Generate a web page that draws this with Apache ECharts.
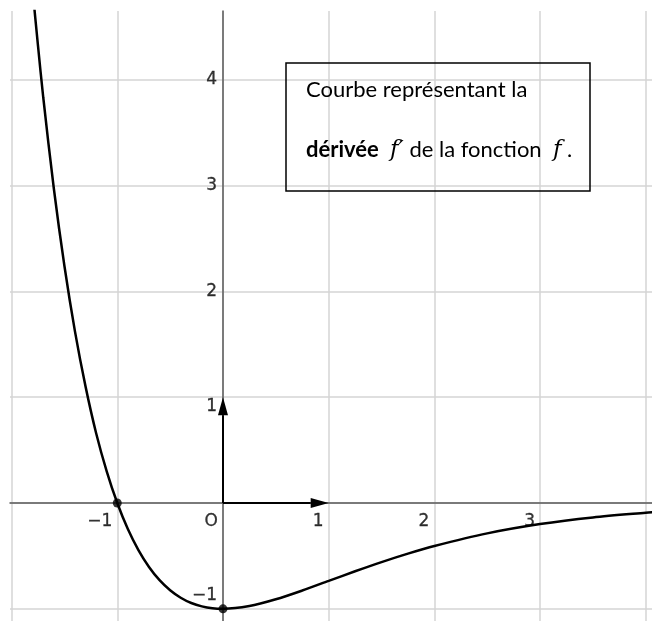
<!DOCTYPE html>
<html>
<head>
<meta charset="utf-8">
<script src="https://cdn.jsdelivr.net/npm/echarts@6/dist/echarts.min.js"></script>
<style>
  html, body { margin: 0; padding: 0; background: #fff; }
  #chart { width: 652px; height: 621px; }
</style>
</head>
<body>
<div id="chart"></div>
<script>
(function() {
  'use strict';

  // courbe de f'
  var curveX = [-1.85, -1.8, -1.75, -1.7, -1.6, -1.5, -1.4, -1.3, -1.2, -1.1, -1, -0.9, -0.8, -0.7, -0.6, -0.5, -0.4, -0.3, -0.2, -0.1, 0, 0.25, 0.5, 0.75, 1, 1.25, 1.5, 1.75, 2, 2.5, 3, 3.5, 4, 4.1];
  var curveY = [5.41, 4.84, 4.32, 3.83, 2.97, 2.24, 1.62, 1.10, 0.66, 0.30, 0, -0.246, -0.445, -0.604, -0.729, -0.824, -0.895, -0.945, -0.977, -0.995, -1, -0.974, -0.910, -0.827, -0.736, -0.645, -0.558, -0.478, -0.406, -0.287, -0.199, -0.136, -0.092, -0.085];

  // points marqués
  var pointsX = [-1, 0];
  var pointsY = [0, -1];

  // vecteurs unitaires (i, j)
  var vecEnds = [[1, 0], [0, 1]];

  // étiquettes des axes
  var xTicks = [-1, 0, 1, 2, 3];
  var xTickText = ['\u22121', 'O', '1', '2', '3'];
  var yTicks = [4, 3, 2, 1, -1];
  var yTickText = ['4', '3', '2', '1', '\u22121'];

  var xRange = [-2.015, 4.059];
  var yRange = [-1.115, 4.65];

  function pairs(xs, ys) {
    return xs.map(function(x, i) { return [x, ys[i]]; });
  }

  // décalage vertical particulier de certaines étiquettes de l'axe des ordonnées
  function yLabelShift(v) {
    if (v === 1) return 9;
    if (v === -1) return -13;
    return 0;
  }

  var gridLine = { show: true, showMinLine: false, showMaxLine: false, lineStyle: { color: '#d4d4d4', width: 1.5 } };
  var axisLine = { show: true, onZero: true, lineStyle: { color: '#5a5a5a', width: 1.5 } };

  function tickLabel(extra) {
    return Object.assign({
      show: true,
      color: '#000',
      fontFamily: 'DejaVu Sans',
      fontSize: 17,
      textBorderColor: '#000',
      textBorderWidth: 0.3,
      formatter: '{b}'
    }, extra);
  }

  function renderArrow(params, api) {
    var o = api.coord([0, 0]);
    var p = api.coord([api.value(0), api.value(1)]);
    var dx = p[0] - o[0], dy = p[1] - o[1];
    var len = Math.sqrt(dx * dx + dy * dy);
    var ux = dx / len, uy = dy / len;
    var headL = 18, headW = 5;
    var bx = p[0] - ux * headL, by = p[1] - uy * headL;
    return {
      type: 'group',
      children: [
        {
          type: 'line',
          shape: { x1: o[0], y1: o[1], x2: bx, y2: by },
          style: { stroke: '#000', lineWidth: 2 }
        },
        {
          type: 'polygon',
          shape: { points: [[p[0], p[1]], [bx - uy * headW, by + ux * headW], [bx + uy * headW, by - ux * headW]] },
          style: { fill: '#000' }
        }
      ]
    };
  }

  var chart = echarts.init(document.getElementById('chart'), null, { renderer: 'canvas' });

  chart.setOption({
    animation: false,
    backgroundColor: '#fff',
    grid: { left: 10, right: 0, top: 11, bottom: 0, containLabel: false, outerBoundsMode: 'none' },
    xAxis: {
      type: 'value',
      min: xRange[0],
      max: xRange[1],
      minInterval: 1,
      maxInterval: 1,
      axisLine: axisLine,
      axisTick: { show: false },
      axisLabel: { show: false },
      splitLine: gridLine
    },
    yAxis: {
      type: 'value',
      min: yRange[0],
      max: yRange[1],
      minInterval: 1,
      maxInterval: 1,
      axisLine: axisLine,
      axisTick: { show: false },
      axisLabel: { show: false },
      splitLine: gridLine
    },
    series: [
      {
        name: 'vecteurs',
        type: 'custom',
        renderItem: renderArrow,
        data: vecEnds,
        silent: true,
        clip: false,
        z: 2
      },
      {
        name: "f'",
        type: 'line',
        data: pairs(curveX, curveY),
        smooth: 0.3,
        showSymbol: false,
        clip: true,
        lineStyle: { color: '#000', width: 2.5 },
        z: 3
      },
      {
        name: 'points',
        type: 'scatter',
        data: pairs(pointsX, pointsY),
        symbolSize: 9,
        itemStyle: { color: '#000' },
        z: 4
      },
      {
        name: 'graduations x',
        type: 'scatter',
        silent: true,
        symbolSize: 0,
        data: xTicks.map(function(v, i) {
          return { value: [v, 0], name: xTickText[i] };
        }),
        label: tickLabel({ position: [-5, 10], align: 'right', verticalAlign: 'top' }),
        z: 5
      },
      {
        name: 'graduations y',
        type: 'scatter',
        silent: true,
        symbolSize: 0,
        data: yTicks.map(function(v, i) {
          return {
            value: [0, v],
            name: yTickText[i],
            label: { position: [-6, yLabelShift(v)] }
          };
        }),
        label: tickLabel({ align: 'right', verticalAlign: 'middle' }),
        z: 5
      }
    ],
    graphic: [
      {
        type: 'rect',
        shape: { x: 286, y: 63, width: 304, height: 128 },
        style: { fill: 'transparent', stroke: '#000', lineWidth: 1.5 },
        z: 10
      },
      {
        type: 'text',
        x: 306,
        y: 90,
        style: {
          text: 'Courbe représentant la',
          fontFamily: 'Lato',
          fontSize: 22,
          fill: '#000',
          verticalAlign: 'middle'
        },
        z: 10
      },
      {
        type: 'text',
        x: 306,
        y: 150,
        style: {
          text: '{b|dérivée}  {i|f\u2032} de la fonction  {i|f} .',
          fontFamily: 'Lato',
          fontSize: 22,
          fill: '#000',
          verticalAlign: 'middle',
          rich: {
            b: { fontFamily: 'Lato', fontSize: 22, fontWeight: 'bold', fill: '#000' },
            i: { fontFamily: 'DejaVu Serif', fontSize: 23, fontStyle: 'italic', fill: '#000' }
          }
        },
        z: 10
      }
    ]
  });

  window.addEventListener('resize', function() { chart.resize(); });
})();
</script>
</body>
</html>
